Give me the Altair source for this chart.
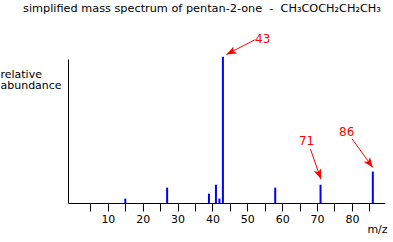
import math
import altair as alt
import pandas as pd

# peaks
mz = [15, 27, 39, 41, 42, 43, 58, 71, 86]
abundance = [3, 10.5, 6.4, 12.5, 3, 100, 10.5, 12.5, 21.5]

# annotations (data units)
ann_label = ["43", "71", "86"]
ann_text_x = [54.4, 67.0, 78.5]
ann_text_y = [109.6, 39.8, 45.5]
ann_x_start = [52.3, 68.1, 80.0]
ann_y_start = [111.8, 36.9, 44.0]
ann_x_tip = [44.0, 71.1, 86.0]
ann_y_tip = [101.6, 16.4, 24.3]

title_text = ["simplified mass spectrum of pentan-2-one\u00a0\u00a0-\u00a0\u00a0CH₃COCH₂CH₂CH₃"]

x_domain = [0, 88]
y_domain = [0, 98.5]
W, H = 316.8, 144

kx = W / (x_domain[1] - x_domain[0])
ky = H / (y_domain[1] - y_domain[0])

angles = []
for xs, ys, xt, yt in zip(ann_x_start, ann_y_start, ann_x_tip, ann_y_tip):
    dx = (xt - xs) * kx
    dy = -(yt - ys) * ky
    angles.append(math.degrees(math.atan2(dx, -dy)) % 360)

peaks = pd.DataFrame({"mz": mz, "ab": abundance})
ann = pd.DataFrame({
    "label": ann_label, "tx": ann_text_x, "ty": ann_text_y,
    "xs": ann_x_start, "ys": ann_y_start, "xt": ann_x_tip, "yt": ann_y_tip,
    "angle": angles,
})
titles = pd.DataFrame({"t": title_text})

FONT = "DejaVu Sans"
xscale = alt.Scale(domain=x_domain, nice=False, zero=False)
yscale = alt.Scale(domain=y_domain, nice=False)

xaxis = alt.Axis(
    values=list(range(5, 90, 5)),
    labelExpr="datum.value % 10 == 0 ? datum.label : ''",
    labelOverlap=False,
    grid=False, tickSize=8, tickColor="black", domainColor="black",
    labelColor="black", labelFont=FONT, labelFontSize=11, labelPadding=3,
    title="m/z", titleFont=FONT, titleFontSize=11, titleFontWeight="normal",
    titleAlign="center", titleBaseline="alphabetic", titleX=309, titleY=30,
    titleColor="black",
)
yaxis = alt.Axis(
    ticks=False, labels=False, grid=False, domainColor="black",
    title=["relative", "abundance"], titleAngle=0, titleAlign="left",
    titleBaseline="alphabetic", titleX=-68, titleY=18, titleLineHeight=12,
    titleFont=FONT, titleFontSize=11, titleFontWeight="normal", titleColor="black",
)

bars = alt.Chart(peaks).mark_bar(size=2, color="#0000FF").encode(
    x=alt.X("mz:Q", scale=xscale, axis=xaxis),
    y=alt.Y("ab:Q", scale=yscale, axis=yaxis),
)

lines = alt.Chart(ann).mark_rule(color="#FF0000", strokeWidth=1).encode(
    x=alt.X("xs:Q", scale=xscale, axis=xaxis), y=alt.Y("ys:Q", scale=yscale, axis=yaxis),
    x2="xt:Q", y2="yt:Q",
)

heads = alt.Chart(ann).mark_point(
    shape="M0,0L0.8,2L0,1.5L-0.8,2Z", filled=True, color="#FF0000", opacity=1, size=100,
    strokeWidth=0,
).encode(
    x=alt.X("xt:Q", scale=xscale, axis=xaxis), y=alt.Y("yt:Q", scale=yscale, axis=yaxis),
    angle=alt.Angle("angle:Q", scale=None),
)

labels = alt.Chart(ann).mark_text(
    color="#FF0000", font=FONT, fontSize=12, baseline="alphabetic", align="center",
).encode(
    x=alt.X("tx:Q", scale=xscale, axis=xaxis), y=alt.Y("ty:Q", scale=yscale, axis=yaxis),
    text="label:N",
)

title = alt.Chart(titles).mark_text(
    color="black", font=FONT, fontSize=11.3, baseline="alphabetic", align="left",
).encode(x=alt.value(-45), y=alt.value(-47), text="t:N")

chart = alt.layer(bars, lines, heads, labels, title).properties(
    width=W, height=H,
    background="white",
    autosize=alt.AutoSizeParams(type="none"),
    padding={"left": 68, "top": 59, "right": 8, "bottom": 39},
).configure_view(stroke=None)

chart.save("out.html", embed_options={"renderer": "svg", "actions": False})
